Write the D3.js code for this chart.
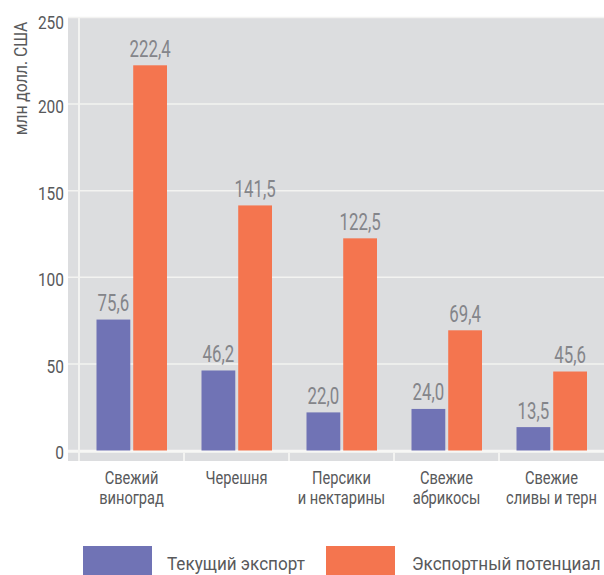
<!DOCTYPE html>
<html>
<head>
<meta charset="utf-8">
<script src="https://cdn.jsdelivr.net/npm/d3@7"></script>
<style>
  html, body { margin: 0; padding: 0; background: #ffffff; }
  svg { display: block; }
  text { font-family: "Roboto", "Liberation Sans", sans-serif; }
</style>
</head>
<body>
<script>
// Fruit exports: current vs potential, million USD
const categories = [
  ["Свежий", "виноград"],
  ["Черешня"],
  ["Персики", "и нектарины"],
  ["Свежие", "абрикосы"],
  ["Свежие", "сливы и терн"]
];
const currentExport = [75.6, 46.2, 22.0, 24.0, 13.5];
const exportPotential = [222.4, 141.5, 122.5, 69.4, 45.6];
const yTicks = [0, 50, 100, 150, 200, 250];
const seriesNames = ["Текущий экспорт", "Экспортный потенциал"];
const seriesColors = ["#7073b5", "#f4754f"];
const yTitle = "млн долл. США";

const W = 604, H = 575;
const plot = { left: 68, axisX: 79, right: 604, top: 17.5, zero: 450.5, bottom: 461 };

// condensed look: text squeezed horizontally around its anchor point
const place = (x, y, sx) => `translate(${x},${y}) scale(${sx},1)`;

const svg = d3.select("body").append("svg")
  .attr("width", W).attr("height", H);

const keys = categories.map((c, i) => i);
const x = d3.scaleBand().domain(keys).range([plot.axisX, plot.right]);
const xInner = d3.scaleBand().domain([0, 1]).range([17.5, 88]).paddingInner(0.08);
const y = d3.scaleLinear().domain([0, 250]).range([plot.zero, plot.top]);

// grey plot panel
svg.append("rect")
  .attr("x", plot.left).attr("y", plot.top)
  .attr("width", plot.right - plot.left).attr("height", plot.bottom - plot.top)
  .attr("fill", "#dcdddf");

// horizontal grid
svg.append("g").selectAll("line").data(yTicks.filter(t => t > 0)).join("line")
  .attr("x1", plot.left).attr("x2", plot.right)
  .attr("y1", d => y(d)).attr("y2", d => y(d))
  .attr("stroke", "#f3f3f1").attr("stroke-width", 1.5);

// baseline
svg.append("line")
  .attr("x1", plot.left).attr("x2", plot.right)
  .attr("y1", y(0) + 0.8).attr("y2", y(0) + 0.8)
  .attr("stroke", "#f7f7f5").attr("stroke-width", 3);

// vertical axis line
svg.append("line")
  .attr("x1", plot.axisX).attr("x2", plot.axisX)
  .attr("y1", plot.top).attr("y2", plot.bottom)
  .attr("stroke", "#f3f3f1").attr("stroke-width", 2);

// category separators below baseline
svg.append("g").selectAll("line").data(keys.slice(1)).join("line")
  .attr("x1", d => x(d)).attr("x2", d => x(d))
  .attr("y1", y(0) + 2).attr("y2", plot.bottom)
  .attr("stroke", "#f3f3f1").attr("stroke-width", 2);

// bars
const series = [currentExport, exportPotential];
const barData = [];
keys.forEach(k => series.forEach((s, si) => barData.push({ k, si, v: s[k] })));

svg.append("g").selectAll("rect").data(barData).join("rect")
  .attr("x", d => x(d.k) + xInner(d.si))
  .attr("width", xInner.bandwidth())
  .attr("y", d => y(d.v))
  .attr("height", d => y(0) - y(d.v))
  .attr("fill", d => seriesColors[d.si]);

// value labels
const fmt = v => v.toFixed(1).replace(".", ",");
svg.append("g").selectAll("text").data(barData).join("text")
  .attr("transform", d => place(x(d.k) + xInner(d.si) + xInner.bandwidth() / 2, y(d.v) - 8.5, 0.73))
  .attr("text-anchor", "middle")
  .attr("font-size", 23)
  .attr("fill", "#84858a")
  .text(d => fmt(d.v));

// y tick labels
svg.append("g").selectAll("text").data(yTicks).join("text")
  .attr("transform", d => place(64, y(d) + (d === 250 ? 5.5 : 2.5), 0.86))
  .attr("dy", "0.35em")
  .attr("text-anchor", "end")
  .attr("font-size", 18)
  .attr("fill", "#58595b")
  .text(d => d);

// y title
svg.append("text")
  .attr("transform", "translate(27,78.5) rotate(-90) scale(0.9,1)")
  .attr("text-anchor", "middle")
  .attr("font-size", 17.5)
  .attr("fill", "#58595b")
  .text(yTitle);

// category labels
const catG = svg.append("g").selectAll("text").data(keys).join("text")
  .attr("transform", k => place(x(k) + x.bandwidth() / 2, 484, 0.77))
  .attr("text-anchor", "middle")
  .attr("font-size", 19)
  .attr("fill", "#58595b");
catG.selectAll("tspan").data(k => categories[k].map((line, i) => ({ line, i }))).join("tspan")
  .attr("x", 0)
  .attr("y", d => d.i * 20.5)
  .text(d => d.line);

// legend
const legendItems = [
  { name: seriesNames[0], color: seriesColors[0], rx: 83, tx: 167 },
  { name: seriesNames[1], color: seriesColors[1], rx: 326, tx: 412 }
];
const lg = svg.append("g").selectAll("g").data(legendItems).join("g");
lg.append("rect")
  .attr("x", d => d.rx).attr("y", 546)
  .attr("width", 69).attr("height", 30)
  .attr("fill", d => d.color);
lg.append("text")
  .attr("transform", d => place(d.tx, 570, 0.925))
  .attr("font-size", 18.5)
  .attr("fill", "#58595b")
  .text(d => d.name);
</script>
</body>
</html>
